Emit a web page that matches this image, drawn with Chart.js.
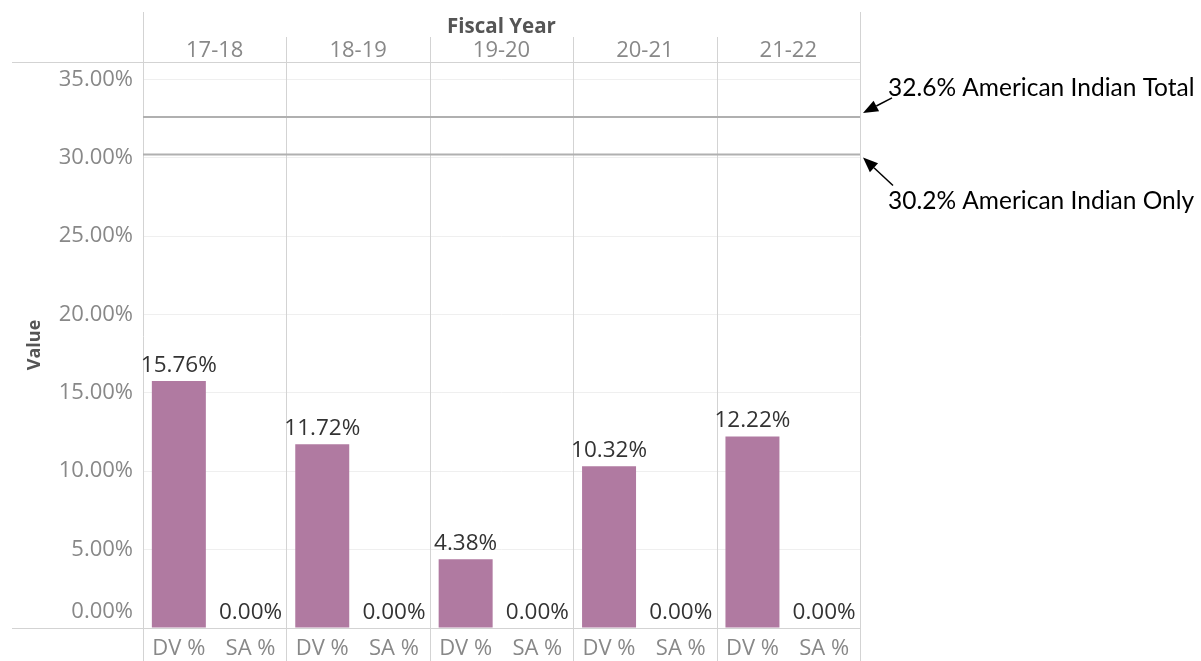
<!DOCTYPE html>
<html><head><meta charset="utf-8">
<script src="https://cdn.jsdelivr.net/npm/chart.js@4"></script>
<style>html,body{margin:0;padding:0;background:#fff}canvas{display:block}</style>
</head><body>
<canvas id="c" width="1201" height="661"></canvas>
<script>
const fiscalYears = ['17-18','18-19','19-20','20-21','21-22'];
const measures = ['DV %','SA %'];
const dvValues = [15.76, 11.72, 4.38, 10.32, 12.22];
const saValues = [0, 0, 0, 0, 0];
const yTicks = [0, 5, 10, 15, 20, 25, 30, 35];
const refValues = [32.6, 30.2];
const refLabels = ['32.6% American Indian Total', '30.2% American Indian Only'];

const categories = [];
const values = [];
fiscalYears.forEach((y, i) => {
  categories.push(measures[0]); values.push(dvValues[i]);
  categories.push(measures[1]); values.push(saValues[i]);
});

const FONT = "'Open Sans', 'Noto Sans', sans-serif";
const LINE = '#d3d3d3';

function arrow(ctx, x1, y1, x2, y2) {
  const ang = Math.atan2(y2 - y1, x2 - x1);
  const hl = 15, hw = 6;
  const bx = x2 - hl * Math.cos(ang), by = y2 - hl * Math.sin(ang);
  ctx.strokeStyle = '#000'; ctx.fillStyle = '#000'; ctx.lineWidth = 1.5;
  ctx.beginPath(); ctx.moveTo(x1, y1); ctx.lineTo(bx, by); ctx.stroke();
  ctx.beginPath();
  ctx.moveTo(x2, y2);
  ctx.lineTo(bx + hw * Math.sin(ang), by - hw * Math.cos(ang));
  ctx.lineTo(bx - hw * Math.sin(ang), by + hw * Math.cos(ang));
  ctx.closePath(); ctx.fill();
}

const decor = {
  id: 'decor',
  beforeDatasetsDraw(chart) {
    const ctx = chart.ctx, a = chart.chartArea, xs = chart.scales.x, ys = chart.scales.y;
    const H = chart.height;
    ctx.save();
    ctx.strokeStyle = LINE; ctx.lineWidth = 1;
    [a.top, a.bottom].forEach(yy => {
      ctx.beginPath(); ctx.moveTo(12, Math.round(yy) + 0.5); ctx.lineTo(a.right, Math.round(yy) + 0.5); ctx.stroke();
    });
    [a.left, a.right].forEach(xx => {
      ctx.beginPath(); ctx.moveTo(Math.round(xx) + 0.5, 12); ctx.lineTo(Math.round(xx) + 0.5, H); ctx.stroke();
    });
    for (let k = 1; k < fiscalYears.length; k++) {
      const xx = (xs.getPixelForValue(2 * k - 1) + xs.getPixelForValue(2 * k)) / 2;
      ctx.beginPath(); ctx.moveTo(Math.round(xx) + 0.5, 37); ctx.lineTo(Math.round(xx) + 0.5, H); ctx.stroke();
    }
    ctx.strokeStyle = '#b0b0b0'; ctx.lineWidth = 2;
    refValues.forEach(v => {
      const yy = ys.getPixelForValue(v);
      ctx.beginPath(); ctx.moveTo(a.left, yy); ctx.lineTo(a.right, yy); ctx.stroke();
    });
    ctx.restore();
  },
  afterDatasetsDraw(chart) {
    const ctx = chart.ctx, a = chart.chartArea, ys = chart.scales.y;
    ctx.save();
    const meta = chart.getDatasetMeta(0);
    ctx.font = "22.5px " + FONT; ctx.fillStyle = '#333'; ctx.textAlign = 'center'; ctx.textBaseline = 'alphabetic';
    meta.data.forEach((el, i) => {
      ctx.fillText(values[i].toFixed(2) + '%', el.x, el.y - 9);
    });
    ctx.font = "24.5px Lato, 'Noto Sans', sans-serif"; ctx.fillStyle = '#000'; ctx.textAlign = 'left';
    const y0 = ys.getPixelForValue(refValues[0]);
    const y1 = ys.getPixelForValue(refValues[1]);
    ctx.fillText(refLabels[0], a.right + 28, y0 - 21);
    arrow(ctx, a.right + 32, y0 - 19, a.right + 3, y0 - 4);
    ctx.fillText(refLabels[1], a.right + 28, y1 + 54);
    arrow(ctx, a.right + 33, y1 + 31, a.right + 3, y1 + 3);
    ctx.restore();
  }
};

new Chart(document.getElementById('c'), {
  type: 'bar',
  data: {
    labels: categories,
    datasets: [{
      data: values,
      backgroundColor: '#b07aa1',
      borderWidth: 0,
      barPercentage: 0.753,
      categoryPercentage: 1.0
    }]
  },
  options: {
    responsive: false,
    animation: false,
    layout: { padding: { left: 0, right: 341, top: 0, bottom: 0 } },
    plugins: { legend: { display: false }, tooltip: { enabled: false } },
    scales: {
      x: {
        type: 'category',
        position: 'bottom',
        grid: { display: false, drawTicks: false },
        border: { display: false },
        ticks: { color: '#888', font: { family: FONT, size: 22 }, padding: 8, maxRotation: 0, autoSkip: false },
        afterFit(s) { s.height = 33; s.paddingLeft = 0; s.paddingRight = 0; }
      },
      x2: {
        type: 'category',
        position: 'top',
        labels: fiscalYears,
        grid: { display: false, drawTicks: false },
        border: { display: false },
        ticks: { color: '#888', font: { family: FONT, size: 22, lineHeight: 1.05 }, padding: 0, maxRotation: 0, autoSkip: false },
        title: { display: true, text: 'Fiscal Year', color: '#555', font: { family: FONT, size: 20.5, weight: 'bold' }, padding: { top: 15, bottom: 0 } },
        afterFit(s) { s.height = 62; s.paddingLeft = 0; s.paddingRight = 0; }
      },
      y: {
        min: 0,
        max: 36.1,
        afterBuildTicks(s) { s.ticks = yTicks.map(v => ({ value: v })); },
        grid: { color: '#efefef', drawTicks: false },
        border: { display: false },
        ticks: {
          color: '#888', font: { family: FONT, size: 22, lineHeight: 1.45 }, padding: 10,
          callback: v => v === 0 ? [Number(v).toFixed(2) + '%', ''] : Number(v).toFixed(2) + '%'
        },
        title: { display: true, text: 'Value', color: '#555', font: { family: FONT, size: 18, weight: 'bold' }, padding: { top: 24, bottom: 0 } },
        afterFit(s) { s.width = 143; s.paddingTop = 0; s.paddingBottom = 0; }
      }
    }
  },
  plugins: [decor]
});
</script>
</body></html>
